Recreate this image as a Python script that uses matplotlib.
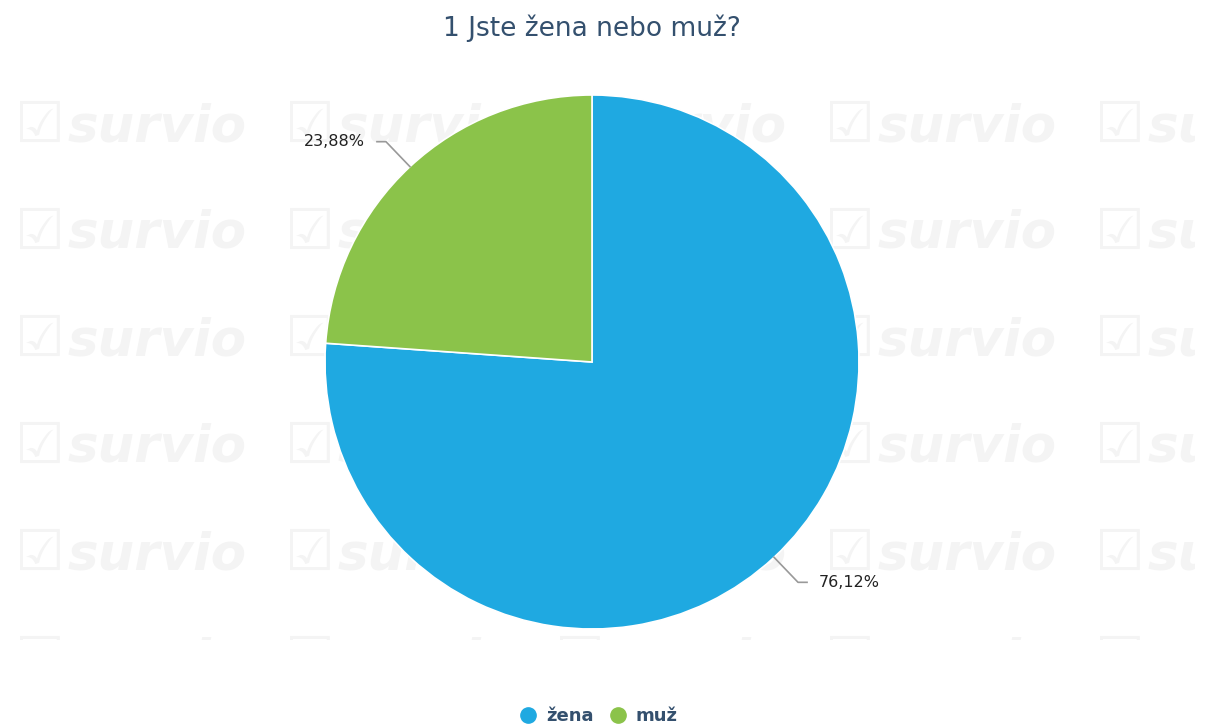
import numpy as np
import matplotlib.pyplot as plt
from matplotlib.lines import Line2D
from matplotlib.patches import Rectangle

# Data
labels = ['žena', 'muž']
values = [76.12, 23.88]
colors = ['#1fa9e1', '#8bc34a']
title = '1 Jste žena nebo muž?'

W, H = 1208, 727
fig = plt.figure(figsize=(W / 100, H / 100), dpi=100)
ax = fig.add_axes([0, 0, 1, 1])
ax.set_xlim(0, W)
ax.set_ylim(0, H)
ax.set_aspect('equal')
ax.axis('off')

# faint survio watermark in the background
clip = Rectangle((0, H - 640), 1195, 560, transform=ax.transData, visible=False)
ax.add_patch(clip)
for wx in [15, 285, 555, 825, 1095]:
    for wy in [127, 234, 341, 448, 555, 662]:
        t1 = ax.text(wx, H - wy, '☑', fontsize=40, color='#f4f4f4', va='center',
                     ha='left', zorder=0, clip_on=True)
        t2 = ax.text(wx + 52, H - wy, 'survio', fontsize=37, color='#f4f4f4',
                     fontweight='bold', style='italic', va='center', ha='left',
                     zorder=0, clip_on=True)
        t1.set_clip_path(clip)
        t2.set_clip_path(clip)

cx, cy, r = 592, H - 362, 267
wedges, _ = ax.pie(values, colors=colors, startangle=90, counterclock=False,
                   center=(cx, cy), radius=r, frame=True,
                   wedgeprops=dict(edgecolor='white', linewidth=1.2))
ax.set_xlim(0, W)
ax.set_ylim(0, H)
ax.axis('off')

# data labels with connectors
for w, v in zip(wedges, values):
    ang = np.deg2rad((w.theta1 + w.theta2) / 2)
    ex, ey = cx + r * np.cos(ang), cy + r * np.sin(ang)
    sx = 1 if np.cos(ang) > 0 else -1
    sy = 1 if np.sin(ang) > 0 else -1
    kx, ky = ex + sx * 24, ey + sy * 25
    hx = kx + sx * 9
    ax.plot([ex, kx, hx], [ey, ky, ky], color='#999999', lw=1.2, zorder=3)
    txt = f'{v:.2f}%'.replace('.', ',')
    ax.text(hx + sx * 12, ky, txt, fontsize=11.5, color='#222222',
            ha='left' if sx > 0 else 'right', va='center')

ax.text(W / 2 - 12, H - 28, title, fontsize=19, color='#34506e',
        ha='center', va='center')

handles = [Line2D([], [], marker='o', linestyle='', markersize=11,
                  markerfacecolor=c, markeredgecolor=c) for c in colors]
leg = fig.legend(handles, labels, loc='center', bbox_to_anchor=(594 / W, 1 - 716 / H),
                 ncol=2, frameon=False, handletextpad=0.0, columnspacing=0.3,
                 fontsize=13)
for t in leg.get_texts():
    t.set_color('#34506e')
    t.set_fontweight('bold')

fig.savefig('out.png', dpi=100, facecolor='white')
